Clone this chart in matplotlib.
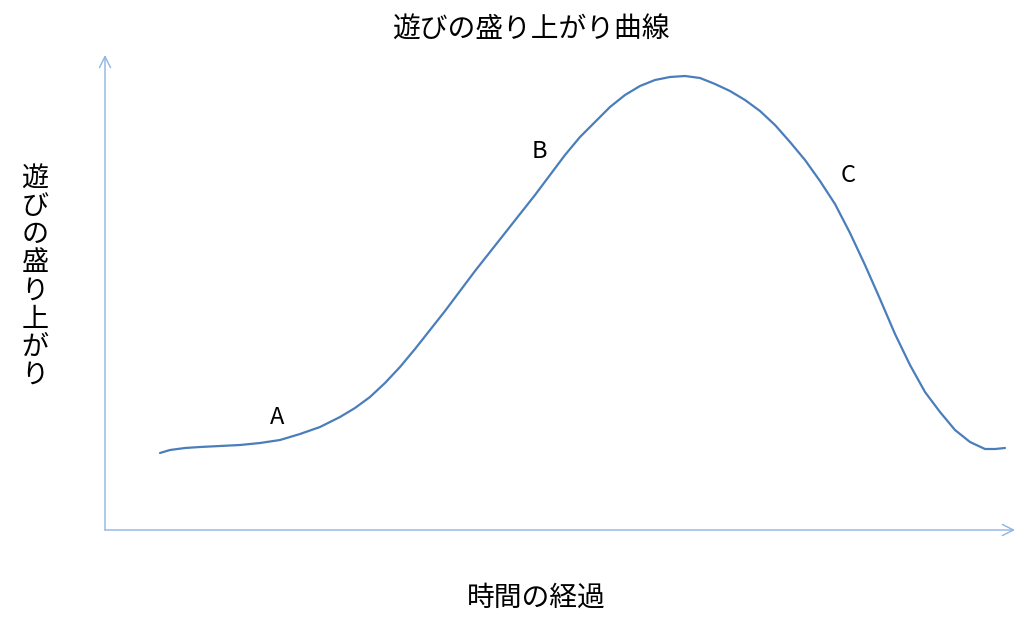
import matplotlib
matplotlib.use("Agg")
import matplotlib.pyplot as plt

plt.rcParams['font.family'] = ['Noto Sans CJK JP', 'DejaVu Sans']

# 時間の経過 (x) と 遊びの盛り上がり (y)
t = [55, 65, 80, 95, 115, 135, 155, 175, 195, 215,
     235, 250, 265, 280, 295, 310, 325, 340, 355, 370,
     385, 400, 415, 430, 445, 460, 475, 490, 505, 520,
     535, 550, 565, 580, 595, 610, 625, 640, 655, 670,
     685, 700, 715, 730, 745, 760, 775, 790, 805, 820,
     835, 850, 865, 880, 890, 900]
level = [77, 80, 82, 83, 84, 85, 87, 90, 96, 103,
         113, 122, 133, 147, 163, 181, 200, 219, 239, 259,
         278, 297, 316, 335, 355, 375, 393, 408, 423, 435,
         444, 450, 453, 454, 452, 446, 439, 430, 419, 405,
         388, 370, 349, 326, 297, 265, 231, 196, 165, 138,
         118, 100, 88, 81, 81, 82]

labels = ['A', 'B', 'C']
label_t = [172, 434, 743]
label_level = [112, 379, 355]

title = '遊びの盛り上がり曲線'
xlabel = '時間の経過'
ylabel = '遊びの盛り上がり'

W, H = 1024, 631
fig = plt.figure(figsize=(W / 100, H / 100), dpi=100)
ax = fig.add_axes([105 / W, (H - 530) / H, (1015 - 105) / W, (530 - 55) / H])
ax.set_xlim(0, 910)
ax.set_ylim(0, 475)
ax.axis('off')

axis_color = '#8DB4E2'
arr = dict(arrowstyle='->', color=axis_color, lw=1.0, mutation_scale=20,
           shrinkA=0, shrinkB=0)
ax.annotate('', xy=(0, 1), xytext=(0, 0), xycoords='axes fraction',
            textcoords='axes fraction', arrowprops=arr)
ax.annotate('', xy=(1, 0), xytext=(0, 0), xycoords='axes fraction',
            textcoords='axes fraction', arrowprops=arr)

ax.plot(t, level, color='#4A7EBB', lw=1.6, solid_capstyle='round',
        solid_joinstyle='round')

for s, x, y in zip(labels, label_t, label_level):
    ax.text(x, y, s, fontsize=17, ha='center', va='center', color='black')

fig.text(531 / W, 1 - 30 / H, title, fontsize=20, ha='center', va='center')
fig.text(536 / W, 1 - 598 / H, xlabel, fontsize=20, ha='center', va='center')
fig.text(35 / W, 1 - 277 / H, '\n'.join(ylabel), fontsize=19.5, ha='center',
         va='center', linespacing=1.05)

fig.savefig('out.png', dpi=100)
